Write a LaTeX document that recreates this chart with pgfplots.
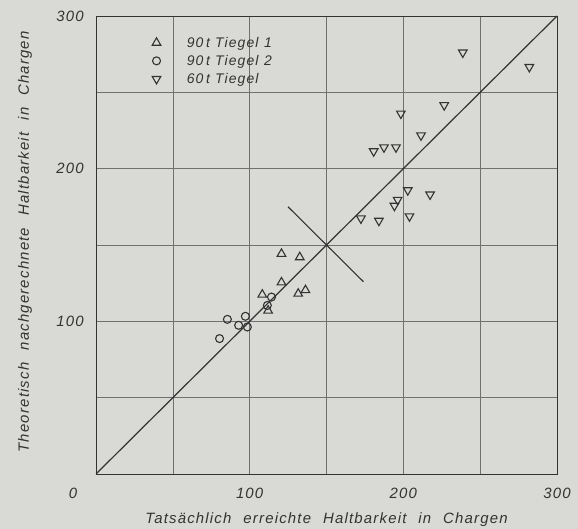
\documentclass[border=0pt]{standalone}
\usepackage{fontspec}
\setmainfont{Liberation Sans}
\newfontfamily\lab[LetterSpace=8]{Liberation Sans}
\usepackage{pgfplots}
\pgfplotsset{compat=1.18}
\definecolor{bg}{HTML}{D9D9D5}
\definecolor{ink}{HTML}{333333}
\definecolor{gridc}{HTML}{707070}
\begin{document}
\begin{tikzpicture}
\fill[bg] (-96bp,-55bp) rectangle (482bp,474bp);
\begin{axis}[
  at={(0,0)}, anchor=south west,
  scale only axis, width=461bp, height=458bp,
  xmin=0, xmax=300, ymin=0, ymax=300,
  xtick={100,200,300}, ytick={100,200,300},
  minor xtick={50,150,250}, minor ytick={50,150,250},
  grid=both,
  major grid style={gridc, line width=0.6bp},
  minor grid style={gridc, line width=0.6bp},
  major tick length=0pt, minor tick length=0pt,
  axis line style={ink, line width=0.8bp},
  /pgf/number format/assume math mode=true,
  tick label style={font=\fontsize{15}{18}\lab\itshape, text=ink, inner sep=0pt},
  xticklabel style={anchor=center, yshift=-19bp},
  yticklabel style={anchor=east, xshift=-12bp},
  xlabel={Tatsächlich\hspace{0.8em}erreichte\hspace{0.8em}Haltbarkeit\hspace{0.8em}in\hspace{0.8em}Chargen},
  ylabel={Theoretisch\hspace{0.8em}nachgerechnete\hspace{0.8em}Haltbarkeit\hspace{0.8em}in\hspace{0.8em}Chargen},
  label style={font=\fontsize{15}{18}\lab\itshape, text=ink, inner sep=0pt},
  xlabel style={at={(axis description cs:0.5,-0.1004)}, anchor=center},
  ylabel style={at={(axis description cs:-0.154,0.507)}, anchor=center},
  legend style={at={(axis description cs:0.1215,0.959)}, anchor=north west,
    draw=none, fill=none, inner xsep=0pt, inner ysep=0pt,
    font=\fontsize{14}{16}\lab\itshape, text=ink,
    column sep=24bp, row sep=2.5bp},
  legend cell align=left,
  legend image code/.code={\draw[mark repeat=2,mark phase=2,#1] plot coordinates {(0bp,0bp)(6bp,0bp)(12bp,0bp)};},
]
\addplot[ink, line width=1.2bp, forget plot] coordinates {(0,0) (300,300)};
\addplot[ink, line width=1.1bp, forget plot] coordinates {(125,175) (174,126)};

\addplot[only marks, mark=triangle, mark size=5pt, mark options={draw=ink, fill=none, line width=1.1bp}]
coordinates {
(120.7,144.2) (132.6,142.0) (120.7,125.5) (108.2,117.5) (112.0,107.0) (131.6,118.1) (136.3,120.4)
};
\addlegendentry{90\hspace{0.2em}t Tiegel\hspace{0.4em}1}

\addplot[only marks, mark=o, mark size=4pt, mark options={draw=ink, fill=none, line width=1.1bp}]
coordinates {
(85.5,101.3) (92.8,97.4) (97.2,103.3) (98.5,96.3) (80.4,88.7) (114.2,115.9) (111.5,110.4)
};
\addlegendentry{90\hspace{0.2em}t Tiegel\hspace{0.4em}2}

\addplot[only marks, mark=triangle, mark size=5pt, mark options={draw=ink, fill=none, line width=1.1bp, rotate=180}]
coordinates {
(238.7,276.1) (282.0,266.6) (226.6,241.6) (198.4,236.1) (211.5,221.8)
(180.7,211.4) (187.4,214.0) (195.2,214.0) (202.9,185.9) (217.4,183.1)
(196.3,179.6) (194.2,175.7) (204.0,168.8) (172.4,167.4) (184.1,165.9)
};
\addlegendentry{60\hspace{0.2em}t Tiegel}
\end{axis}
\node[font=\fontsize{15}{18}\lab\itshape, text=ink, anchor=center] at (-23bp,-19bp) {0};
\pgfresetboundingbox
\path (-96bp,-55bp) rectangle (482bp,474bp);
\end{tikzpicture}
\end{document}
